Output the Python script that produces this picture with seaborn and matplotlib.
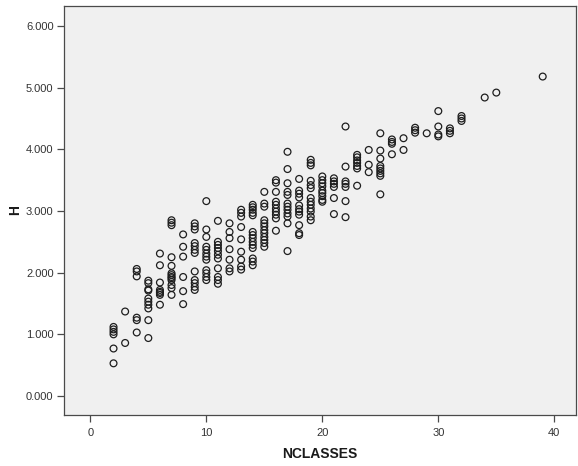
import matplotlib
matplotlib.use("Agg")
import matplotlib.pyplot as plt
from matplotlib.ticker import FormatStrFormatter, FixedLocator
import pandas as pd
import seaborn as sns

# Number of classes per observation
nclasses = [
    2, 2, 2, 2, 2, 2,
    3, 3,
    4, 4, 4, 4, 4, 4,
    5, 5, 5, 5, 5, 5, 5, 5, 5, 5,
    6, 6, 6, 6, 6, 6, 6, 6,
    7, 7, 7, 7, 7, 7, 7, 7, 7, 7, 7, 7, 7,
    8, 8, 8, 8, 8, 8,
    9, 9, 9, 9, 9, 9, 9, 9, 9, 9, 9, 9,
    10, 10, 10, 10, 10, 10, 10, 10, 10, 10, 10, 10,
    11, 11, 11, 11, 11, 11, 11, 11, 11, 11, 11,
    12, 12, 12, 12, 12, 12, 12,
    13, 13, 13, 13, 13, 13, 13, 13, 13,
    14, 14, 14, 14, 14, 14, 14, 14, 14, 14, 14, 14, 14, 14,
    15, 15, 15, 15, 15, 15, 15, 15, 15, 15, 15, 15,
    16, 16, 16, 16, 16, 16, 16, 16, 16, 16,
    17, 17, 17, 17, 17, 17, 17, 17, 17, 17, 17, 17,
    18, 18, 18, 18, 18, 18, 18, 18, 18, 18, 18,
    19, 19, 19, 19, 19, 19, 19, 19, 19, 19, 19, 19, 19,
    20, 20, 20, 20, 20, 20, 20, 20, 20,
    21, 21, 21, 21, 21, 21,
    22, 22, 22, 22, 22, 22, 22,
    23, 23, 23, 23, 23, 23, 23,
    24, 24, 24,
    25, 25, 25, 25, 25, 25, 25, 25, 25,
    26, 26, 26, 26,
    27, 27,
    28, 28, 28,
    29,
    30, 30, 30, 30,
    31, 31, 31,
    32, 32, 32,
    34,
    35,
    39,
]

# Diversity index H for each observation (same order as nclasses)
h = [
    1.12, 1.08, 1.04, 1.00, 0.77, 0.53,
    1.37, 0.86,
    2.06, 2.02, 1.94, 1.27, 1.23, 1.03,
    1.87, 1.83, 1.73, 1.71, 1.58, 1.53, 1.48, 1.42, 1.23, 0.94,
    2.31, 2.12, 1.84, 1.72, 1.69, 1.67, 1.64, 1.48,
    2.85, 2.81, 2.77, 2.25, 2.11, 1.99, 1.96, 1.93, 1.91, 1.88, 1.80, 1.75, 1.64,
    2.62, 2.42, 2.26, 1.93, 1.70, 1.49,
    2.80, 2.75, 2.70, 2.48, 2.43, 2.37, 2.32, 2.02, 1.88, 1.83, 1.77, 1.72,
    3.16, 2.70, 2.58, 2.42, 2.37, 2.31, 2.26, 2.21, 2.04, 1.99, 1.93, 1.88,
    2.84, 2.50, 2.45, 2.40, 2.35, 2.29, 2.23, 2.07, 1.93, 1.88, 1.82,
    2.80, 2.66, 2.56, 2.38, 2.21, 2.07, 2.02,
    3.02, 2.97, 2.91, 2.74, 2.54, 2.34, 2.21, 2.10, 2.05,
    3.10, 3.06, 3.02, 2.97, 2.93, 2.66, 2.61, 2.56, 2.50, 2.45, 2.40, 2.23, 2.18, 2.12,
    3.31, 3.12, 3.07, 2.85, 2.80, 2.75, 2.69, 2.64, 2.58, 2.53, 2.48, 2.42,
    3.50, 3.46, 3.31, 3.15, 3.10, 3.04, 2.99, 2.94, 2.88, 2.68,
    3.96, 3.68, 3.45, 3.31, 3.26, 3.12, 3.07, 3.02, 2.96, 2.91, 2.80, 2.35,
    3.52, 3.33, 3.28, 3.22, 3.09, 3.03, 2.99, 2.94, 2.77, 2.64, 2.61,
    3.83, 3.78, 3.74, 3.49, 3.42, 3.37, 3.21, 3.15, 3.10, 3.04, 2.99, 2.91, 2.85,
    3.56, 3.50, 3.45, 3.40, 3.33, 3.29, 3.24, 3.18, 3.15,
    3.53, 3.48, 3.44, 3.39, 3.21, 2.95,
    4.37, 3.72, 3.48, 3.44, 3.39, 3.16, 2.90,
    3.91, 3.87, 3.82, 3.78, 3.73, 3.69, 3.41,
    3.99, 3.75, 3.63,
    4.26, 3.98, 3.85, 3.73, 3.69, 3.65, 3.61, 3.57, 3.27,
    4.16, 4.12, 4.09, 3.92,
    4.18, 3.99,
    4.35, 4.31, 4.27,
    4.26,
    4.62, 4.37, 4.24, 4.21,
    4.34, 4.30, 4.26,
    4.54, 4.50, 4.46,
    4.84,
    4.92,
    5.18,
]

x_ticks = [0, 10, 20, 30, 40]
y_ticks = [0, 1, 2, 3, 4, 5, 6]

df = pd.DataFrame({"NCLASSES": nclasses, "H": h})

sns.set_theme(style="ticks")
plt.rcParams["font.family"] = ["Liberation Sans", "DejaVu Sans"]

W, H_PX = 578, 466
fig = plt.figure(figsize=(W / 100, H_PX / 100), dpi=100)
fig.patch.set_facecolor("white")
ax = fig.add_axes([64 / W, 1 - 415 / H_PX, (576 - 64) / W, (415 - 6) / H_PX])
ax.set_facecolor("#f0f0f0")

sns.scatterplot(data=df, x="NCLASSES", y="H", ax=ax, marker="o",
                s=24, linewidth=0.9, legend=False)
pts = ax.collections[0]
pts.set_facecolor("none")
pts.set_edgecolor("#1e1e1e")

ax.set_xlim(-2.27, 41.87)
ax.set_ylim(-0.308, 6.324)
ax.xaxis.set_major_locator(FixedLocator(x_ticks))
ax.yaxis.set_major_locator(FixedLocator(y_ticks))
ax.yaxis.set_major_formatter(FormatStrFormatter("%.3f"))

for side in ["top", "right", "bottom", "left"]:
    ax.spines[side].set_visible(True)
    ax.spines[side].set_color("#4a4a4a")
    ax.spines[side].set_linewidth(0.9)

ax.tick_params(axis="both", direction="out", length=5, width=0.9,
               color="#4a4a4a", labelsize=8, labelcolor="#333333")
ax.tick_params(axis="x", pad=4.5)
ax.tick_params(axis="y", pad=2.5)
ax.tick_params(top=False, right=False)

ax.set_xlabel("NCLASSES", fontsize=10, fontweight="bold", color="#1a1a1a", labelpad=6)
ax.set_ylabel("H", fontsize=10, fontweight="bold", color="#1a1a1a", labelpad=3)

fig.savefig("out.png", dpi=100)
